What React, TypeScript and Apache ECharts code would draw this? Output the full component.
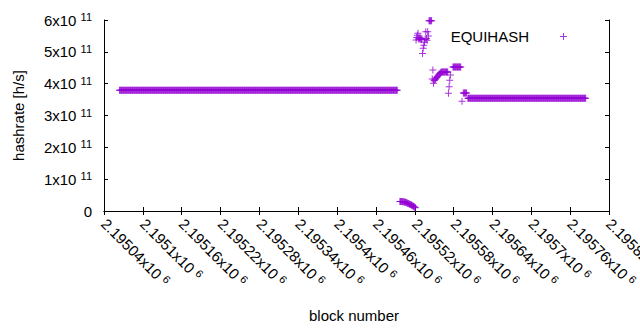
import React, { useEffect, useRef } from "react";
import * as echarts from "echarts";

// ---- data ----
const RUN_START_BLOCKS = [2195064, 2195602];
const RUN_END_BLOCKS = [2195493, 2195784];
const RUN_HASHRATES = [3.79e11, 3.54e11];

const TRANSITION_BLOCKS = [
  2195497, 2195498, 2195499, 2195500, 2195501, 2195502, 2195503, 2195504, 2195505, 2195506,
  2195507, 2195508, 2195509, 2195510, 2195511, 2195512, 2195513, 2195514, 2195515, 2195516,
  2195517, 2195518, 2195519, 2195520, 2195521,
  2195522, 2195523, 2195524, 2195525, 2195526, 2195527, 2195528, 2195529, 2195530, 2195531,
  2195532, 2195533, 2195534, 2195535, 2195536, 2195537, 2195538, 2195539, 2195540, 2195541,
  2195542, 2195543, 2195544, 2195545, 2195546,
  2195547, 2195548, 2195549, 2195550, 2195551, 2195552, 2195553, 2195554, 2195555, 2195556,
  2195557, 2195558, 2195559, 2195560,
  2195561, 2195562, 2195563, 2195564, 2195565, 2195566, 2195567, 2195568, 2195569, 2195570, 2195571,
  2195572, 2195573, 2195574, 2195575,
  2195579, 2195580, 2195581, 2195582, 2195583, 2195584, 2195585, 2195586, 2195587, 2195588,
  2195589, 2195590, 2195591,
  2195593,
  2195595, 2195596, 2195597, 2195598, 2195599, 2195600,
];
const TRANSITION_HASHRATES = [
  3.0e10, 3.0e10, 2.98e10, 2.96e10, 2.94e10, 2.92e10, 2.88e10, 2.84e10, 2.78e10, 2.72e10,
  2.64e10, 2.55e10, 2.45e10, 2.35e10, 2.25e10, 2.15e10, 2.05e10, 1.95e10, 1.85e10, 1.72e10,
  1.6e10, 1.48e10, 1.35e10, 1.2e10, 1.02e10,
  5.37e11, 5.45e11, 5.52e11, 5.58e11, 5.4e11, 5.4e11, 5.45e11, 5.4e11, 5.38e11, 5.42e11,
  4.95e11, 5.11e11, 5.21e11, 5.3e11, 5.39e11, 5.63e11, 5.42e11, 5.36e11, 5.63e11, 5.5e11,
  5.98e11, 5.98e11, 5.98e11, 5.98e11, 5.98e11,
  4.15e11, 4.43e11, 4.01e11, 4.1e11, 4.12e11, 4.15e11, 4.18e11, 4.2e11, 4.22e11, 4.25e11,
  4.27e11, 4.3e11, 4.32e11, 4.35e11,
  4.37e11, 4.37e11, 4.37e11, 4.37e11, 4.37e11, 4.37e11, 4.37e11, 4.37e11, 4.37e11, 4.37e11, 4.37e11,
  3.7e11, 3.9e11, 4.11e11, 4.27e11,
  4.52e11, 4.52e11, 4.52e11, 4.52e11, 4.52e11, 4.52e11, 4.52e11, 4.52e11, 4.52e11, 4.52e11,
  4.52e11, 4.52e11, 4.52e11,
  3.45e11,
  3.71e11, 3.71e11, 3.71e11, 3.71e11, 3.71e11, 3.71e11,
];

const X_MIN = 2195040;
const X_MAX = 2195820;
const X_STEP = 60;
const Y_MIN = 0;
const Y_MAX = 6e11;
const Y_STEP = 1e11;
const SERIES_NAME = "EQUIHASH";
const X_TITLE = "block number";
const Y_TITLE = "hashrate [h/s]";

const FONT = "Liberation Sans";
const COLOR = "#9400d3";
const PLUS = "path://M3,0h1v3h3v1h-3v3h-1v-3h-3v-1h3z";

function buildPoints(): number[][] {
  const pts: number[][] = [];
  for (let r = 0; r < RUN_START_BLOCKS.length; r++) {
    for (let b = RUN_START_BLOCKS[r]; b <= RUN_END_BLOCKS[r]; b++) {
      pts.push([b, RUN_HASHRATES[r]]);
    }
  }
  for (let i = 0; i < TRANSITION_BLOCKS.length; i++) {
    pts.push([TRANSITION_BLOCKS[i], TRANSITION_HASHRATES[i]]);
  }
  return pts;
}

const rich = {
  m: { fontSize: 15, color: "#000", fontFamily: FONT, lineHeight: 17 },
  s: { fontSize: 11, color: "#000", fontFamily: FONT, lineHeight: 11, verticalAlign: "top" as const },
};

const axisLine = { show: true, lineStyle: { color: "#000", width: 1 } };
const axisTick = { show: true, inside: true, length: 4, lineStyle: { color: "#000", width: 1 } };

export default function App() {
  const ref = useRef<HTMLDivElement>(null);
  useEffect(() => {
    if (!ref.current) return;
    const chart = echarts.init(ref.current, undefined, { renderer: "svg" });
    chart.setOption({
      animation: false,
      textStyle: { fontFamily: FONT },
      grid: {
        left: 104,
        right: 31,
        top: 20,
        bottom: 119,
        containLabel: false,
        outerBoundsMode: "none",
      },
      legend: {
        show: true,
        data: [{ name: SERIES_NAME, icon: PLUS }],
        right: 68,
        top: 24,
        align: "right",
        itemWidth: 7,
        itemHeight: 7,
        textStyle: { fontSize: 15, color: "#000", fontFamily: FONT, padding: [0, 26, 0, 0] },
      },
      xAxis: [
        {
          type: "value",
          min: X_MIN,
          max: X_MAX,
          interval: X_STEP,
          position: "bottom",
          name: X_TITLE,
          nameLocation: "middle",
          nameGap: 97,
          nameTextStyle: { fontSize: 15, color: "#000", fontFamily: FONT, padding: [0, 5, 0, 0] },
          axisLine,
          axisTick,
          splitLine: { show: false },
          axisLabel: {
            rotate: -45,
            margin: 10,
            showMinLabel: true,
            showMaxLabel: true,
            hideOverlap: false,
            formatter: (v: number) => `{m|${parseFloat((v / 1e6).toFixed(5))}x10 }{s|6}`,
            rich,
          },
        },
        {
          type: "value",
          min: X_MIN,
          max: X_MAX,
          interval: X_STEP,
          position: "top",
          axisLine,
          axisTick,
          splitLine: { show: false },
          axisLabel: { show: false },
        },
      ],
      yAxis: [
        {
          type: "value",
          min: Y_MIN,
          max: Y_MAX,
          interval: Y_STEP,
          position: "left",
          name: Y_TITLE,
          nameLocation: "middle",
          nameGap: 78,
          nameRotate: 90,
          nameTextStyle: { fontSize: 15, color: "#000", fontFamily: FONT },
          axisLine,
          axisTick,
          splitLine: { show: false },
          axisLabel: {
            margin: 12,
            formatter: (v: number) => (v === 0 ? "{m|0}" : `{m|${Math.round(v / 1e11)}x10 }{s|11}`),
            rich,
          },
        },
        {
          type: "value",
          min: Y_MIN,
          max: Y_MAX,
          interval: Y_STEP,
          position: "right",
          axisLine,
          axisTick,
          splitLine: { show: false },
          axisLabel: { show: false },
        },
      ],
      series: [
        {
          type: "scatter",
          name: SERIES_NAME,
          data: buildPoints(),
          symbol: PLUS,
          symbolSize: 7,
          itemStyle: { color: COLOR },
          xAxisIndex: 0,
          yAxisIndex: 0,
        },
      ],
    });
    return () => chart.dispose();
  }, []);
  return (
    <div
      ref={ref}
      style={{ position: "fixed", left: 0, top: 0, width: 640, height: 330, background: "#fff" }}
    />
  );
}
